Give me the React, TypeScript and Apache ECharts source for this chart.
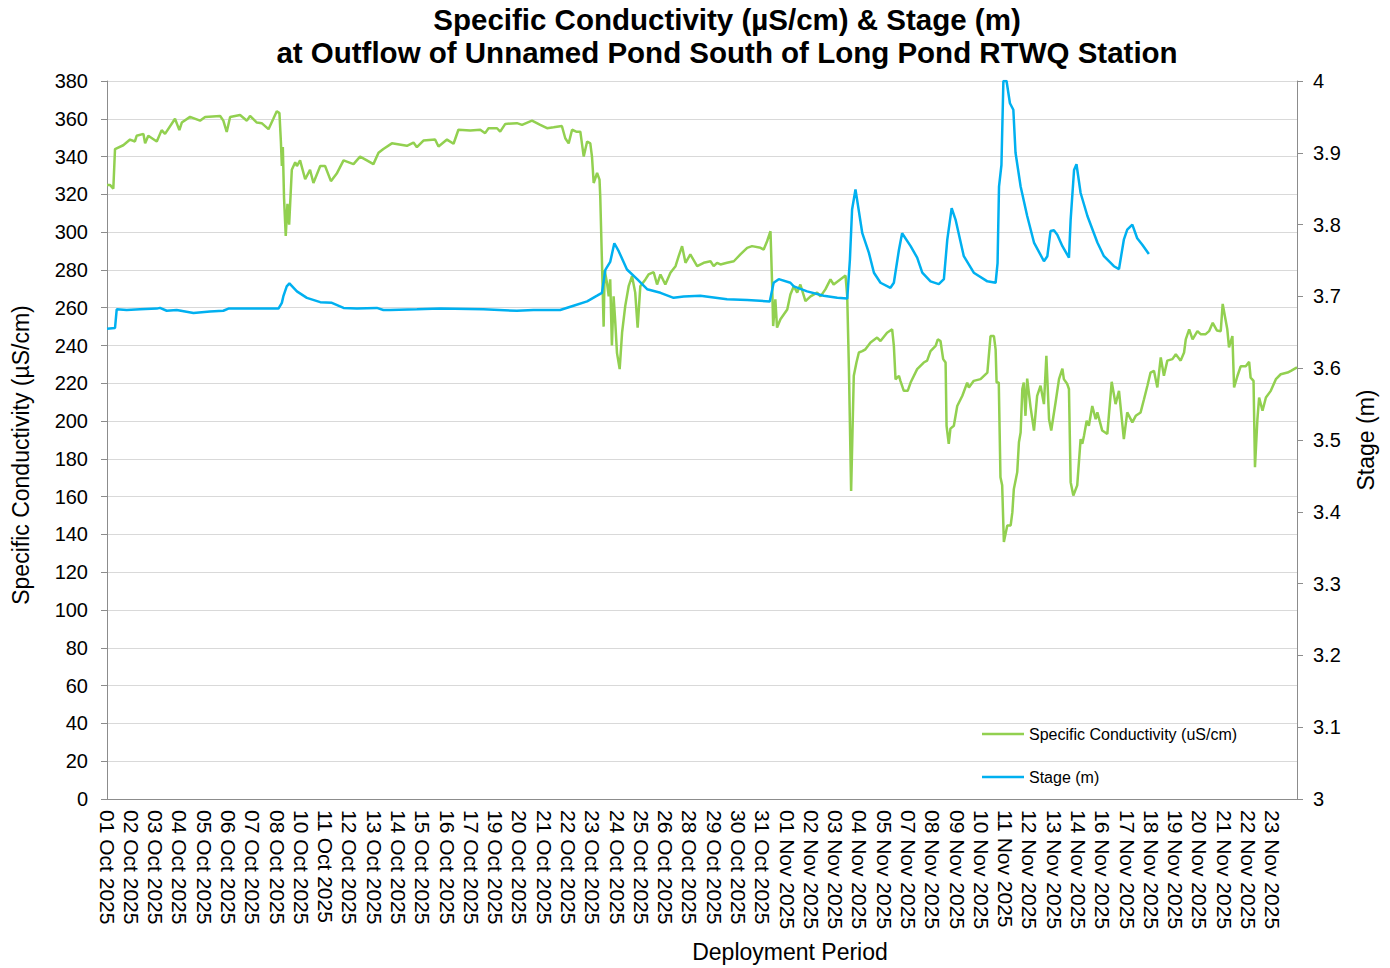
import React, { useEffect, useRef } from "react";
import * as echarts from "echarts";

const FONT = "'Liberation Sans', Arial, Helvetica, sans-serif";

const TITLE_LINE_1 = "Specific Conductivity (µS/cm) & Stage (m)";
const TITLE_LINE_2 = "at Outflow of Unnamed Pond South of Long Pond RTWQ Station";
const COND_NAME = "Specific Conductivity (uS/cm)";
const STAGE_NAME = "Stage (m)";

// x-axis tick labels (one per tick step)
const xLabels = [
  "01 Oct 2025", "02 Oct 2025", "03 Oct 2025", "04 Oct 2025", "05 Oct 2025", "06 Oct 2025",
  "07 Oct 2025", "08 Oct 2025", "10 Oct 2025", "11 Oct 2025", "12 Oct 2025", "13 Oct 2025",
  "14 Oct 2025", "15 Oct 2025", "16 Oct 2025", "17 Oct 2025", "19 Oct 2025", "20 Oct 2025",
  "21 Oct 2025", "22 Oct 2025", "23 Oct 2025", "24 Oct 2025", "25 Oct 2025", "26 Oct 2025",
  "28 Oct 2025", "29 Oct 2025", "30 Oct 2025", "31 Oct 2025", "01 Nov 2025", "02 Nov 2025",
  "03 Nov 2025", "04 Nov 2025", "05 Nov 2025", "07 Nov 2025", "08 Nov 2025", "09 Nov 2025",
  "10 Nov 2025", "11 Nov 2025", "12 Nov 2025", "13 Nov 2025", "14 Nov 2025", "16 Nov 2025",
  "17 Nov 2025", "18 Nov 2025", "19 Nov 2025", "20 Nov 2025", "21 Nov 2025", "22 Nov 2025",
  "23 Nov 2025",
];

// Specific conductivity: [position along the date axis (label steps), µS/cm]
const conductivity: [number, number][] = [
  [0.0, 325], [0.12, 325], [0.26, 323], [0.33, 344], [0.67, 346], [0.95, 349], [1.15, 348],
  [1.22, 351], [1.5, 352], [1.57, 347], [1.7, 351], [2.05, 348], [2.25, 354], [2.39, 352],
  [2.8, 360], [2.98, 354], [3.08, 358], [3.42, 361], [3.83, 359], [4.04, 361], [4.66, 361.5],
  [4.79, 359], [4.93, 353], [5.07, 361], [5.48, 362], [5.76, 359], [5.89, 361.5], [6.17, 358],
  [6.37, 357.7], [6.65, 354.5], [6.85, 360], [6.99, 364], [7.1, 363], [7.16, 348], [7.2, 335],
  [7.24, 345], [7.29, 318], [7.36, 298], [7.43, 315], [7.5, 304], [7.61, 333], [7.75, 337],
  [7.82, 335], [7.95, 338], [8.16, 328], [8.36, 333], [8.5, 326], [8.78, 335], [8.98, 335],
  [9.22, 327], [9.46, 331], [9.74, 338], [10.15, 336], [10.42, 340], [10.7, 338], [10.97, 336],
  [11.18, 342], [11.38, 344], [11.73, 347], [12.35, 345.7], [12.62, 347.4], [12.76, 345],
  [13.03, 348.5], [13.51, 349], [13.65, 345.3], [14.0, 349], [14.27, 346.8], [14.47, 354.2],
  [14.96, 353.8], [15.37, 354.2], [15.57, 352.4], [15.71, 355], [16.06, 355], [16.19, 353.2],
  [16.4, 357.3], [16.88, 357.7], [17.09, 356.8], [17.5, 359], [17.84, 356.8], [18.12, 355],
  [18.39, 355.5], [18.73, 356.2], [18.87, 349.7], [19.01, 347], [19.15, 354.2], [19.32, 353.2],
  [19.49, 353.2], [19.63, 340], [19.77, 348], [19.9, 347], [19.97, 340], [20.04, 326],
  [20.18, 331.3], [20.28, 327.8], [20.31, 319], [20.45, 250], [20.49, 280], [20.59, 273],
  [20.66, 266], [20.72, 275], [20.79, 240], [20.86, 266], [20.93, 252], [21.0, 236],
  [21.11, 227.5], [21.21, 247], [21.34, 261], [21.48, 271.4], [21.62, 276.7], [21.75, 268],
  [21.85, 249.5], [21.96, 271.4], [22.17, 275], [22.3, 277.6], [22.51, 278.8], [22.65, 272.3],
  [22.79, 277.6], [22.99, 272.3], [23.2, 278.5], [23.41, 282], [23.54, 287.3], [23.68, 292.6],
  [23.82, 283.8], [24.02, 288.2], [24.3, 282], [24.57, 283.8], [24.85, 284.6], [24.98, 282],
  [25.12, 283.8], [25.26, 282.9], [25.53, 283.8], [25.81, 284.6], [26.08, 288.2], [26.36, 291.7],
  [26.56, 292.6], [26.91, 291.7], [27.04, 290.8], [27.18, 295.2], [27.32, 300.5], [27.39, 271.4],
  [27.43, 250.3], [27.52, 264.4], [27.59, 249.5], [27.73, 253.9], [28.01, 259.1], [28.14, 267],
  [28.28, 271.4], [28.42, 268], [28.55, 272.3], [28.76, 263.5], [28.97, 266], [29.24, 268],
  [29.38, 266], [29.58, 269.7], [29.79, 275], [29.92, 272.3], [30.41, 277], [30.48, 266],
  [30.55, 227.5], [30.64, 163], [30.75, 224], [30.86, 231], [30.96, 236.3], [31.1, 237],
  [31.23, 238], [31.44, 241.6], [31.71, 244.2], [31.85, 242.4], [32.12, 246.8], [32.33, 248.6],
  [32.4, 239.8], [32.47, 222], [32.61, 224], [32.67, 221.3], [32.81, 216], [32.97, 216],
  [33.09, 220.4], [33.36, 227.5], [33.63, 231], [33.77, 232], [33.91, 237], [34.12, 239.8],
  [34.21, 243.3], [34.32, 242.4], [34.43, 232.8], [34.53, 231], [34.57, 197.5], [34.66, 188],
  [34.73, 196], [34.87, 197.5], [35.01, 208], [35.22, 213.4], [35.42, 220.4], [35.49, 217.8],
  [35.69, 221.3], [35.97, 222.2], [36.25, 225.7], [36.38, 245], [36.52, 245], [36.59, 238],
  [36.63, 220.4], [36.72, 220.4], [36.79, 170.3], [36.86, 166], [36.93, 136], [37.07, 144.8],
  [37.21, 144.8], [37.28, 151.8], [37.34, 164], [37.48, 173], [37.55, 188.8], [37.62, 194],
  [37.69, 217], [37.75, 220.4], [37.82, 202.8], [37.89, 222.5], [38.03, 207.3], [38.17, 195],
  [38.3, 213.4], [38.44, 218.7], [38.58, 209], [38.68, 234.5], [38.79, 201], [38.88, 195],
  [39.06, 210], [39.2, 222.2], [39.34, 227.8], [39.4, 222.2], [39.54, 219.6], [39.61, 217],
  [39.68, 167.7], [39.79, 160.6], [39.95, 166], [40.09, 190.5], [40.16, 188], [40.23, 192.3],
  [40.34, 200.2], [40.43, 197.5], [40.57, 208], [40.71, 201], [40.78, 204.6], [40.98, 195],
  [41.19, 193.2], [41.37, 220.8], [41.53, 209], [41.67, 216], [41.87, 190.5], [42.01, 204.6],
  [42.22, 199.3], [42.36, 202.8], [42.56, 204.6], [42.7, 211.6], [42.84, 218.7], [42.97, 225.7],
  [43.11, 226.6], [43.25, 217.8], [43.39, 233.7], [43.52, 224], [43.66, 232], [43.87, 232.8],
  [44.01, 235.4], [44.21, 232], [44.35, 236.3], [44.42, 243.3], [44.56, 248.6], [44.7, 243.3],
  [44.9, 247.6], [45.03, 246], [45.24, 246], [45.38, 247.6], [45.53, 252], [45.7, 248],
  [45.86, 247.6], [45.94, 262], [46.13, 248.6], [46.2, 239], [46.34, 245], [46.41, 217.8],
  [46.55, 224], [46.68, 229], [46.89, 229], [47.03, 231.4], [47.09, 223], [47.21, 221.3],
  [47.27, 175.6], [47.37, 201], [47.44, 212.5], [47.58, 205.5], [47.72, 212.5], [47.92, 216],
  [48.13, 222.2], [48.33, 224.8], [48.61, 225.7], [48.75, 226.6], [49.0, 228.4],
];

// Stage: [position along the date axis (label steps), m]
const stage: [number, number][] = [
  [0.0, 3.655], [0.33, 3.656], [0.4, 3.682], [0.81, 3.681], [1.36, 3.682], [2.05, 3.683],
  [2.18, 3.684], [2.46, 3.68], [2.87, 3.681], [3.56, 3.677], [4.24, 3.679], [4.79, 3.68],
  [5.0, 3.683], [6.17, 3.683], [7.06, 3.683], [7.2, 3.691], [7.26, 3.7], [7.4, 3.714],
  [7.51, 3.718], [7.82, 3.707], [8.23, 3.698], [8.78, 3.692], [9.26, 3.691], [9.74, 3.684],
  [10.29, 3.683], [11.11, 3.684], [11.38, 3.681], [11.66, 3.681], [12.76, 3.682], [13.72, 3.683],
  [15.5, 3.682], [16.88, 3.68], [17.56, 3.681], [18.66, 3.681], [19.21, 3.687], [19.77, 3.693],
  [20.18, 3.701], [20.38, 3.705], [20.52, 3.737], [20.72, 3.748], [20.89, 3.774], [21.07, 3.763],
  [21.41, 3.7375], [21.83, 3.724], [22.24, 3.71], [22.79, 3.705], [23.33, 3.698], [23.75, 3.7],
  [24.43, 3.701], [25.53, 3.696], [26.36, 3.695], [27.29, 3.693], [27.45, 3.719], [27.66, 3.724],
  [28.14, 3.719], [28.28, 3.714], [28.83, 3.707], [29.51, 3.701], [30.07, 3.698], [30.48, 3.697],
  [30.59, 3.751], [30.68, 3.821], [30.82, 3.849], [31.1, 3.788], [31.37, 3.761], [31.58, 3.733],
  [31.85, 3.719], [32.26, 3.712], [32.4, 3.719], [32.61, 3.765], [32.74, 3.788], [33.09, 3.77],
  [33.36, 3.754], [33.57, 3.733], [33.91, 3.721], [34.25, 3.717], [34.46, 3.724], [34.6, 3.779],
  [34.78, 3.823], [34.94, 3.807], [35.28, 3.756], [35.69, 3.733], [36.25, 3.721], [36.59, 3.719],
  [36.67, 3.7465], [36.73, 3.853], [36.83, 3.883], [36.91, 4.0], [37.04, 4.0], [37.18, 3.969],
  [37.32, 3.96], [37.41, 3.9], [37.62, 3.853], [37.89, 3.812], [38.17, 3.775], [38.58, 3.749],
  [38.72, 3.756], [38.85, 3.791], [38.99, 3.792], [39.13, 3.786], [39.34, 3.77], [39.61, 3.754],
  [39.68, 3.807], [39.82, 3.876], [39.92, 3.884], [40.09, 3.844], [40.37, 3.812], [40.78, 3.775],
  [41.05, 3.756], [41.46, 3.742], [41.67, 3.738], [41.87, 3.779], [42.01, 3.793], [42.22, 3.8],
  [42.42, 3.781], [42.63, 3.772], [42.9, 3.759],
];

const GREEN = "#92D050";
const BLUE = "#00B0F0";
const AXIS_GRAY = "#8c8c8c";
const GRID_GRAY = "#d9d9d9";

export default function App() {
  const ref = useRef<HTMLDivElement>(null);

  useEffect(() => {
    document.body.style.margin = "0";
    if (!ref.current) return;
    const chart = echarts.init(ref.current, undefined, { renderer: "svg" });
    chart.setOption({
      animation: false,
      backgroundColor: "#ffffff",
      textStyle: { fontFamily: FONT },
      title: {
        text: TITLE_LINE_1 + "\n" + TITLE_LINE_2,
        left: 727,
        top: 3,
        padding: 0,
        textAlign: "center",
        textStyle: {
          fontFamily: FONT,
          fontSize: 29.5,
          fontWeight: "bold",
          lineHeight: 33,
          color: "#000000",
        },
      },
      legend: {
        orient: "vertical",
        left: 982,
        top: 726,
        padding: 0,
        icon: "rect",
        itemWidth: 42,
        itemHeight: 2.5,
        itemGap: 27,
        textStyle: { fontFamily: FONT, fontSize: 16, color: "#000000" },
        data: [
          { name: COND_NAME, itemStyle: { color: GREEN } },
          { name: STAGE_NAME, itemStyle: { color: BLUE } },
        ],
      },
      grid: { left: 107, right: 93, top: 81, bottom: 167, containLabel: false },
      xAxis: {
        type: "value",
        min: 0,
        max: 49,
        interval: 1,
        name: "Deployment Period",
        nameLocation: "middle",
        nameGap: 141,
        nameTextStyle: { fontFamily: FONT, fontSize: 23, color: "#000000", padding: [0, 0, 0, 176] },
        axisLine: { show: true, lineStyle: { color: AXIS_GRAY, width: 1 } },
        axisTick: { show: false },
        splitLine: { show: false },
        axisLabel: {
          rotate: -90,
          margin: 11,
          fontFamily: FONT,
          fontSize: 21,
          color: "#000000",
          formatter: (v: number) => xLabels[Math.round(v)] ?? "",
        },
      },
      yAxis: [
        {
          type: "value",
          min: 0,
          max: 380,
          interval: 20,
          position: "left",
          name: "Specific Conductivity (µS/cm)",
          nameLocation: "middle",
          nameRotate: 90,
          nameGap: 75,
          nameTextStyle: { fontFamily: FONT, fontSize: 23, color: "#000000", padding: [0, 30, 0, 0] },
          axisLine: { show: true, lineStyle: { color: AXIS_GRAY, width: 1 } },
          axisTick: { show: true, inside: false, length: 6, lineStyle: { color: AXIS_GRAY } },
          splitLine: { show: true, lineStyle: { color: GRID_GRAY, width: 1 } },
          axisLabel: { margin: 19, fontFamily: FONT, fontSize: 20, color: "#000000" },
        },
        {
          type: "value",
          min: 3,
          max: 4,
          interval: 0.1,
          position: "right",
          name: "Stage (m)",
          nameLocation: "middle",
          nameRotate: 90,
          nameGap: 57,
          nameTextStyle: { fontFamily: FONT, fontSize: 23, color: "#000000" },
          axisLine: { show: true, lineStyle: { color: AXIS_GRAY, width: 1 } },
          axisTick: { show: true, inside: false, length: 6, lineStyle: { color: AXIS_GRAY } },
          splitLine: { show: false },
          axisLabel: {
            margin: 16,
            fontFamily: FONT,
            fontSize: 20,
            color: "#000000",
            formatter: (v: number) => String(parseFloat(v.toFixed(1))),
          },
        },
      ],
      series: [
        {
          name: COND_NAME,
          type: "line",
          yAxisIndex: 0,
          data: conductivity,
          symbol: "none",
          lineStyle: { color: GREEN, width: 2.5 },
          itemStyle: { color: GREEN },
        },
        {
          name: STAGE_NAME,
          type: "line",
          yAxisIndex: 1,
          data: stage,
          symbol: "none",
          lineStyle: { color: BLUE, width: 2.5 },
          itemStyle: { color: BLUE },
        },
      ],
    });
    return () => chart.dispose();
  }, []);

  return <div ref={ref} style={{ width: 1390, height: 968 }} />;
}
